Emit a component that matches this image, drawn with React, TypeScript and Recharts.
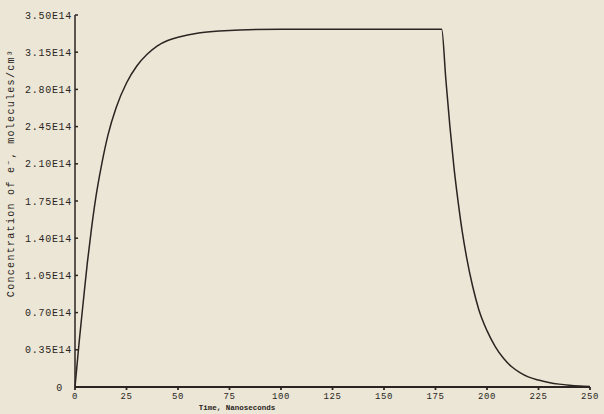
import { LineChart, Line, XAxis, YAxis } from 'recharts';

// time axis, nanoseconds
const timeNs = [
  0, 2, 4, 6, 8, 10, 13, 16, 20, 25, 30, 35, 40, 45, 50, 60, 70, 80, 100, 125, 150, 175, 178,
  180, 182, 184, 186, 188, 190, 193, 196, 200, 204, 208, 212, 216, 220, 225, 230, 235, 240, 245,
  250,
];
// concentration of e-, in units of 1E14 molecules/cm3
const concE14 = [
  0, 0.42, 0.8, 1.17, 1.49, 1.77, 2.1, 2.37, 2.63, 2.86, 3.02, 3.13, 3.21, 3.26, 3.29, 3.33, 3.35,
  3.36, 3.365, 3.365, 3.365, 3.365, 3.365, 2.9, 2.45, 2.06, 1.74, 1.46, 1.23, 0.95, 0.73, 0.53,
  0.38, 0.27, 0.19, 0.135, 0.095, 0.065, 0.043, 0.027, 0.016, 0.009, 0.005,
];
const xTicks = [0, 25, 50, 75, 100, 125, 150, 175, 200, 225, 250];
const yTicksE14 = [0, 0.35, 0.7, 1.05, 1.4, 1.75, 2.1, 2.45, 2.8, 3.15, 3.5];

const rows = timeNs.map((t, i) => ({ t, c: concE14[i] * 1e14 }));
const yTicks = yTicksE14.map((v) => v * 1e14);

const INK = '#2a2522';
const PAPER = '#ebe6d5';
const FONT = '"Liberation Mono", "DejaVu Sans Mono", monospace';

function YTick({ x, y, payload }: any) {
  const v = payload.value as number;
  const label = v === 0 ? '0' : (v / 1e14).toFixed(2) + 'E14';
  return (
    <text
      x={v === 0 ? x - 9 : x}
      y={y}
      dy={3.5}
      textAnchor="end"
      fontSize={10}
      fontFamily={FONT}
      letterSpacing={0.7}
      fill={INK}
    >
      {label}
    </text>
  );
}

function XTick({ x, y, payload }: any) {
  return (
    <text
      x={x}
      y={y}
      dy={8}
      textAnchor="middle"
      fontSize={9}
      fontFamily={FONT}
      letterSpacing={0.6}
      fill={INK}
    >
      {payload.value}
    </text>
  );
}

export default function App() {
  return (
    <div
      style={{
        position: 'absolute',
        left: 0,
        top: 0,
        width: 604,
        height: 414,
        background: PAPER,
      }}
    >
      <LineChart width={604} height={414} data={rows} margin={{ top: 15, right: 14, bottom: 0, left: 0 }}>
        <XAxis
          dataKey="t"
          type="number"
          domain={[0, 250]}
          ticks={xTicks}
          height={27}
          stroke={INK}
          strokeWidth={1.8}
          tickSize={3}
          tickMargin={1}
          tick={<XTick />}
          label={{
            content: ({ viewBox }: any) => (
              <text
                x={viewBox.x + 162}
                y={viewBox.y + viewBox.height - 4}
                textAnchor="middle"
                fontSize={7.5}
                fontWeight="bold"
                fontFamily={FONT}
                fill={INK}
              >
                Time, Nanoseconds
              </text>
            ),
          }}
        />
        <YAxis
          type="number"
          domain={[0, 3.5e14]}
          ticks={yTicks}
          width={75}
          stroke={INK}
          strokeWidth={1.5}
          tickSize={-3}
          tickMargin={6}
          tick={<YTick />}
          label={{
            content: () => (
              <text
                x={0}
                y={0}
                transform="translate(14, 173) rotate(-90)"
                textAnchor="middle"
                fontSize={10}
                fontFamily={FONT}
                letterSpacing={1.3}
                fill={INK}
              >
                Concentration of e⁻, molecules/cm³
              </text>
            ),
          }}
        />
        <Line
          type="monotone"
          dataKey="c"
          stroke={INK}
          strokeWidth={1.5}
          dot={false}
          isAnimationActive={false}
        />
      </LineChart>
    </div>
  );
}
